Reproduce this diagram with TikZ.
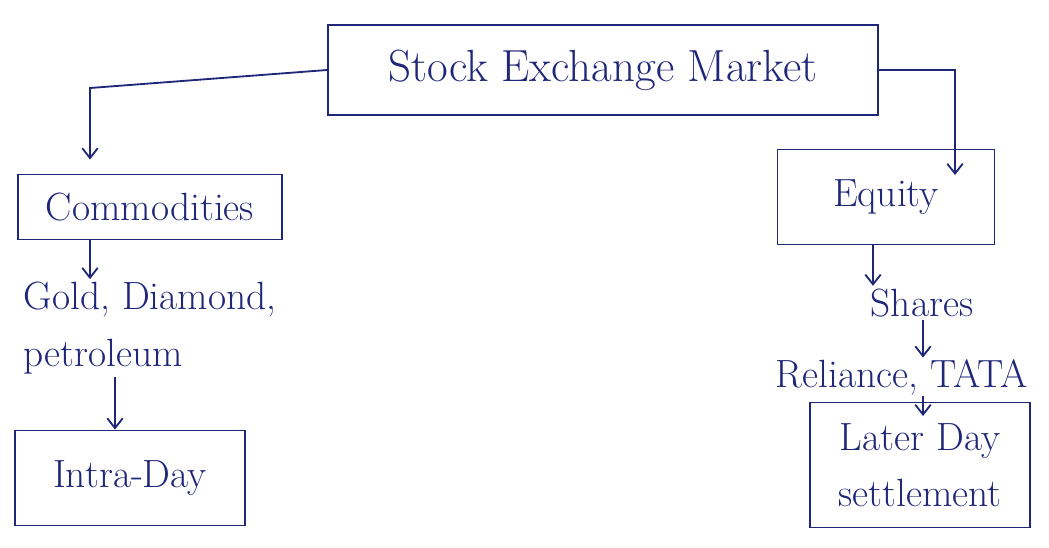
\documentclass[tikz,border=0pt]{standalone}
\usepackage{tikz}
\usetikzlibrary{arrows.meta}
\definecolor{inkblue}{RGB}{32,38,120}
\newcommand\handsize{\fontsize{28}{40}\selectfont}

\begin{document}
\begin{tikzpicture}[x=0.025cm,y=-0.025cm,>={Straight Barb[length=7pt,width=11pt]},
    box/.style={draw=inkblue,line width=1.3pt,text=inkblue,font=\handsize,inner sep=2pt},
    lbl/.style={text=inkblue,font=\handsize,inner sep=2pt},
    arr/.style={->,draw=inkblue,line width=1.3pt}]
    \useasboundingbox (0,0) rectangle (1049,547);

    \node[box,font=\fontsize{32}{38}\selectfont,minimum width=13.75cm,minimum height=2.25cm](smk) at (603,70){Stock Exchange Market};
    \node[box,minimum width=6.6cm,minimum height=1.625cm](comm) at (150,207){Commodities};
    \node[box,minimum width=5.425cm,minimum height=2.375cm](eq) at (886,197){Equity};
    \node[lbl,align=left](gold) at (150,328){Gold, Diamond,\\petroleum};
    \node[box,minimum width=5.75cm,minimum height=2.375cm](intra) at (130,478){Intra-Day};
    \node[lbl](shares) at (922,303){Shares};
    \node[lbl,inner sep=1pt](rel) at (902,377){Reliance, TATA};
    \node[box,align=center,minimum width=5.5cm,minimum height=3.125cm](later) at (920,465){Later Day\\settlement};

    \coordinate (lbend) at (90,88);
    \coordinate (eqin) at (955,175);
    \coordinate (ex) at (873,0);
    \coordinate (ix) at (115,0);
    \coordinate (sx) at (923,0);
    \coordinate (lin) at (923,416);

    \draw[arr,shorten >=10pt](smk.west)--(lbend)--(comm.north -| lbend);
    \draw[arr](smk.east)-|(eqin);
    \draw[arr](comm.south -| lbend)--(gold.north -| lbend);
    \draw[arr](eq.south -| ex)--(shares.north -| ex);
    \draw[arr](gold.south -| ix)--(intra.north -| ix);
    \draw[arr](shares.south -| sx)--(rel.north -| sx);
    \draw[arr](rel.south -| sx)--(lin);
\end{tikzpicture}
\end{document}
